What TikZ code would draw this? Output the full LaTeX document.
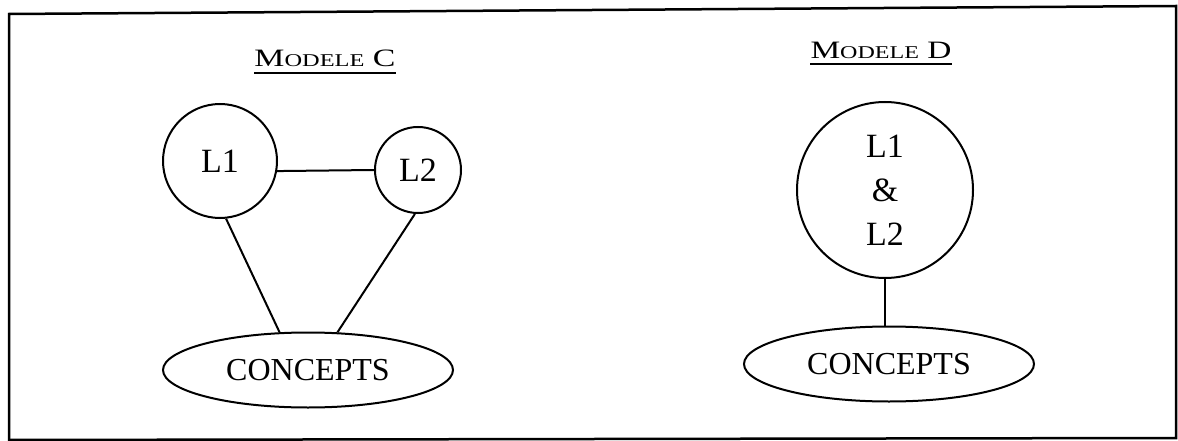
\documentclass[tikz,border=0pt]{standalone}
\usepackage{fontspec}
\setmainfont{Liberation Serif}
\usetikzlibrary{shapes.geometric}
\begin{document}
\begin{tikzpicture}[x=1pt,y=-1pt,
  lang/.style={circle,draw,line width=2pt,inner sep=0pt,font=\fontsize{34}{44}\selectfont},
  concept/.style={ellipse,draw,line width=2pt,inner sep=0pt,minimum width=290pt,minimum height=75pt,font=\fontsize{32}{32}\selectfont},
  title/.style={anchor=base,inner sep=0pt},
  link/.style={draw,line width=2pt}]
\useasboundingbox (0,0) rectangle (1178,441);
% frame
\draw[line width=2.5pt] (9,14) -- (1176,6) -- (1176,438) -- (9,440) -- cycle;
% titles
\newcommand{\mytitle}[1]{\resizebox{141pt}{\height}{\fontsize{25}{25}\selectfont M\fontsize{18}{18}\selectfont ODELE\fontsize{25}{25}\selectfont\ #1}}
\node[title] (tc) at (325,67) {\mytitle{C}};
\node[title] (td) at (881,59) {\mytitle{D}};
\draw[line width=1.5pt] ([yshift=-6pt]tc.base west) -- ([yshift=-6pt]tc.base east);
\draw[line width=1.5pt] ([yshift=-5pt]td.base west) -- ([yshift=-5pt]td.base east);
% model C
\node[lang,minimum size=114pt] (L1) at (220,161) {L1};
\node[lang,minimum size=86pt] (L2) at (418,170) {L2};
\node[concept] (CC) at (308,370) {CONCEPTS};
\draw[link] (L1.-10) -- (L2.west);
\draw[link] (L1.-84) -- (CC.127);
\draw[link] (L2.-94) -- (CC.52);
% model D
\node[lang,minimum size=176pt,align=center] (LD) at (885,190) {L1\\\&\\L2};
\node[concept] (CD) at (889,364) {CONCEPTS};
\draw[link] (LD.south) -- (LD.south |- CD.north);
\end{tikzpicture}
\end{document}
